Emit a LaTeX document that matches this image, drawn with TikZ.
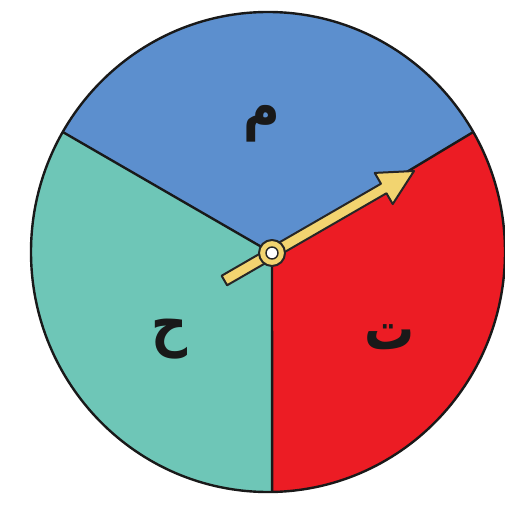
\documentclass[tikz,border=0pt]{standalone}
\usepackage{fontspec}
\usetikzlibrary{calc}
\newfontfamily\arabicfont[Script=Arabic]{DejaVu Sans}
\TeXXeTstate=1
\definecolor{secblue}{RGB}{92,143,206}
\definecolor{secteal}{RGB}{110,198,183}
\definecolor{secred}{RGB}{236,28,36}
\definecolor{pointer}{RGB}{242,212,112}
\begin{document}
\begin{tikzpicture}[x=1pt,y=1pt,
  sector/.style={draw=black!90,line width=2.4pt,line join=round},
  lettertext/.style={font=\arabicfont\bfseries\fontsize{50}{50}\selectfont,text=black!90,inner sep=0pt,yscale=1.2},
  pointerstyle/.style={fill=pointer,draw=black!85,line width=2pt,line join=round}]
\useasboundingbox (0,0) rectangle (505,504);
\clip (0,0) rectangle (505,504);
% geometry
\coordinate (hub) at (272,251);
\coordinate (c) at (268,252);
\def\rx{237}\def\ry{240}
\coordinate (pl) at ($(c)+(150:\rx pt and \ry pt)$);
\coordinate (pr) at ($(c)+(30:\rx pt and \ry pt)$);
\coordinate (pb) at ($(c)+(271:\rx pt and \ry pt)$);
% sectors
\fill[secblue] (hub) -- (pr) arc[start angle=30,end angle=150,x radius=\rx,y radius=\ry] -- cycle;
\fill[secteal] (hub) -- (pl) arc[start angle=150,end angle=271,x radius=\rx,y radius=\ry] -- cycle;
\fill[secred] (hub) -- (pb) arc[start angle=271,end angle=390,x radius=\rx,y radius=\ry] -- cycle;
\draw[sector] (hub) -- (pl);
\draw[sector] (hub) -- (pr);
\draw[sector] (hub) -- (pb);
\draw[sector] (c) ellipse[x radius=\rx,y radius=\ry];
% labels
\node[lettertext] (m) at (262,380) {\beginR م\endR};
\node[lettertext] (h) at (170,165) {\beginR ح\endR};
\node[lettertext] (t) at (390,167) {\beginR ت\endR};
% pointer
\begin{scope}[shift={(hub)},rotate=30]
\draw[pointerstyle] (-55,-5.5) -- (129,-5.5) -- (129,-18) -- (164,0) -- (129,18) -- (129,5.5) -- (-55,5.5) -- cycle;
\end{scope}
\draw[pointerstyle] (hub) circle (13);
\draw[fill=white,draw=black!85,line width=1.4pt] (hub) circle (6);
\end{tikzpicture}
\end{document}
